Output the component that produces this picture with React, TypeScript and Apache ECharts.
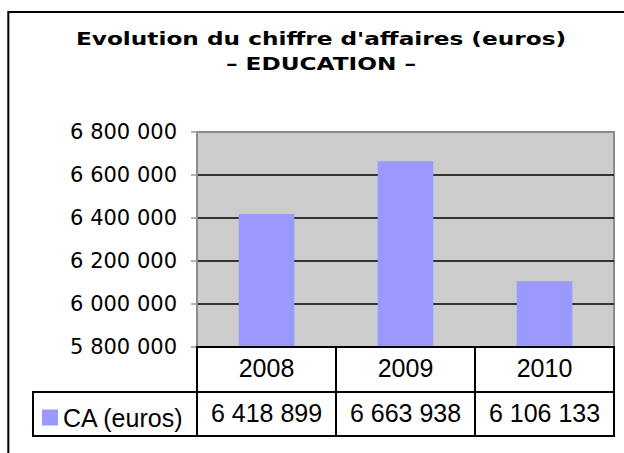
import React, { useEffect, useRef } from "react";
import * as echarts from "echarts";

const categories = ["2008", "2009", "2010"];
const caValues = [6418899, 6663938, 6106133];
const seriesName = "CA (euros)";
const titleLines = ["Evolution du chiffre d'affaires (euros)", "– EDUCATION –"];
const yMin = 5800000;
const yMax = 6800000;
const yStep = 200000;

const fmt = (n: number) => String(n).replace(/\B(?=(\d{3})+(?!\d))/g, " ");

// layout
const GL = 197;
const GR = 614;
const GT = 132;
const GB = 347;
const ROW1 = 392;
const ROW2 = 436;
const TABLE_LEFT = 33;

export default function App() {
  const ref = useRef<HTMLDivElement>(null);
  useEffect(() => {
    if (!ref.current) return;
    const chart = echarts.init(ref.current, null, { renderer: "svg" });
    const colW = (GR - GL) / categories.length;
    const lines: any[] = [];
    const L = (x1: number, y1: number, x2: number, y2: number) =>
      lines.push({
        type: "line",
        z: 100,
        shape: { x1, y1, x2, y2 },
        style: { stroke: "#000", lineWidth: 2 },
      });
    L(GL - 1, GB, GR + 1, GB);
    L(TABLE_LEFT - 1, ROW1, GR + 1, ROW1);
    L(TABLE_LEFT - 1, ROW2, GR + 1, ROW2);
    L(TABLE_LEFT, ROW1, TABLE_LEFT, ROW2);
    for (let i = 0; i <= categories.length; i++) {
      const x = GL + i * colW;
      L(x, GB, x, ROW2);
    }
    const titleTexts = titleLines.map((t, i) => ({
      type: "text",
      z: 100,
      x: 321,
      y: 39 + i * 24.5,
      scaleX: 1.29,
      style: {
        text: t,
        x: 0,
        y: 0,
        align: "center",
        verticalAlign: "middle",
        fontFamily: "DejaVu Sans",
        fontWeight: "bold",
        fontSize: 18,
        fill: "#000",
      },
    }));
    chart.setOption({
      animation: false,
      backgroundColor: "#fff",
      legend: {
        left: 37,
        top: 400,
        icon: "rect",
        itemWidth: 16,
        itemHeight: 16,
        itemGap: 5,
        textStyle: { fontFamily: "Liberation Sans", fontSize: 25, color: "#000" },
        data: [seriesName],
      },
      grid: {
        left: GL,
        right: 624 - GR,
        top: GT,
        bottom: 453 - GB,
        show: true,
        backgroundColor: "#CCCCCC",
        borderColor: "#8c8c8c",
        borderWidth: 2,
      },
      xAxis: [
        {
          type: "category",
          data: categories,
          position: "bottom",
          axisLine: { show: false },
          axisTick: { show: false },
          axisLabel: {
            interval: 0,
            hideOverlap: false,
            margin: 8,
            fontFamily: "Liberation Sans",
            fontSize: 25,
            lineHeight: 25,
            color: "#000",
          },
        },
        {
          type: "category",
          data: categories,
          position: "bottom",
          offset: 0,
          axisLine: { show: false },
          axisTick: { show: false },
          axisLabel: {
            interval: 0,
            hideOverlap: false,
            margin: 53,
            fontFamily: "Liberation Sans",
            fontSize: 25,
            lineHeight: 25,
            color: "#000",
            formatter: (_v: string, i: number) => fmt(caValues[i]),
          },
        },
      ],
      yAxis: {
        type: "value",
        min: yMin,
        max: yMax,
        interval: yStep,
        axisLine: { show: true, lineStyle: { color: "#8c8c8c", width: 2 } },
        axisTick: { show: true, length: 6, lineStyle: { color: "#999", width: 1.5 } },
        axisLabel: {
          margin: 20,
          fontFamily: "DejaVu Sans",
          fontSize: 21,
          color: "#000",
          formatter: (v: number) => fmt(v),
        },
        splitLine: {
          show: true,
          lineStyle: {
            color: ["#000", "#000", "#000", "#000", "#000", "#8c8c8c"],
            width: 1.5,
          },
        },
      },
      series: [
        {
          name: seriesName,
          type: "bar",
          xAxisIndex: 0,
          data: caValues,
          barWidth: "40%",
          itemStyle: { color: "#9999FF" },
        },
      ],
      graphic: [
        {
          type: "rect",
          z: 100,
          shape: { x: 8.3, y: 12, width: 800, height: 800 },
          style: { fill: "none", stroke: "#000", lineWidth: 2 },
        },
        ...titleTexts,
        ...lines,
      ],
    });
    return () => chart.dispose();
  }, []);
  return (
    <div
      ref={ref}
      style={{ position: "absolute", left: 0, top: 0, width: 624, height: 453 }}
    />
  );
}
